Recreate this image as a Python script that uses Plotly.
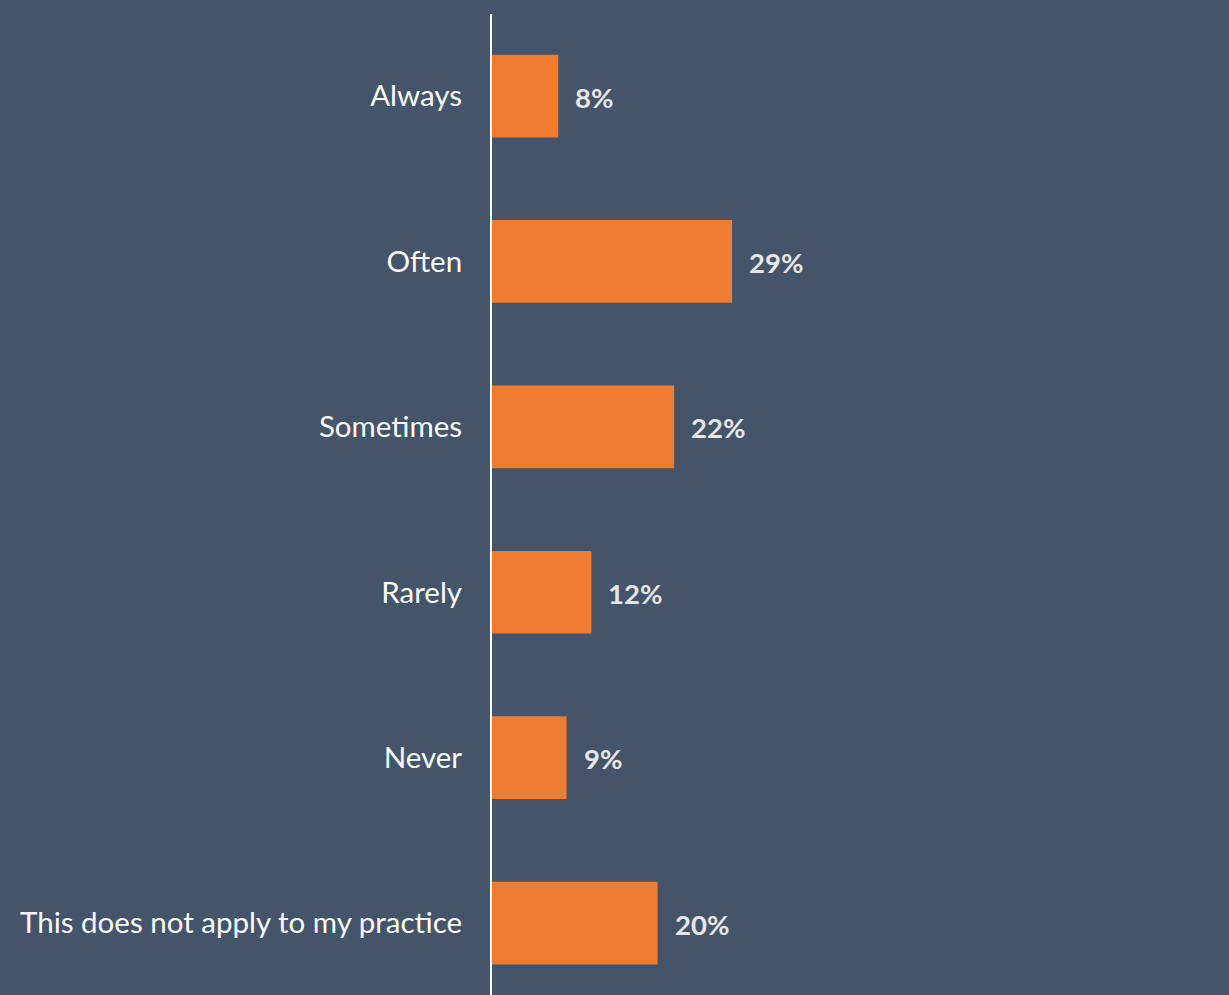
import plotly.graph_objects as go

# Survey responses and their shares (percent)
categories = ["Always", "Often", "Sometimes", "Rarely", "Never",
              "This does not apply to my practice"]
values = [8, 29, 22, 12, 9, 20]
value_labels = [f"{v}%" for v in values]

BG = "#44546A"
BAR = "#ED7D31"
FONT = "Lato, 'Open Sans', sans-serif"

fig = go.Figure(
    go.Bar(
        x=values,
        y=categories,
        orientation="h",
        marker=dict(color=BAR, line=dict(width=0)),
        hoverinfo="skip",
    )
)

# value labels placed just right of each bar end
for cat, v, lab in zip(categories, values, value_labels):
    fig.add_annotation(
        x=v, y=cat, text=f"<b>{lab}</b>", showarrow=False,
        xanchor="left", yanchor="middle", xshift=15, yshift=-1,
        font=dict(family=FONT, size=27.5, color="#E7E6E6"),
    )

fig.update_layout(
    width=1229, height=995,
    margin=dict(l=492, r=0, t=14, b=0),
    paper_bgcolor=BG, plot_bgcolor=BG,
    bargap=0.5,
    showlegend=False,
    xaxis=dict(range=[0, 89], visible=False, fixedrange=True),
    yaxis=dict(
        categoryorder="array", categoryarray=categories,
        range=[5.435, -0.496],
        showline=True, linecolor="#FFFFFF", linewidth=2,
        showgrid=False, zeroline=False, ticks="",
        ticklabelstandoff=22,
        tickfont=dict(family=FONT, size=29.5, color="#FFFFFF"),
    ),
)

fig.write_html("out.html")
